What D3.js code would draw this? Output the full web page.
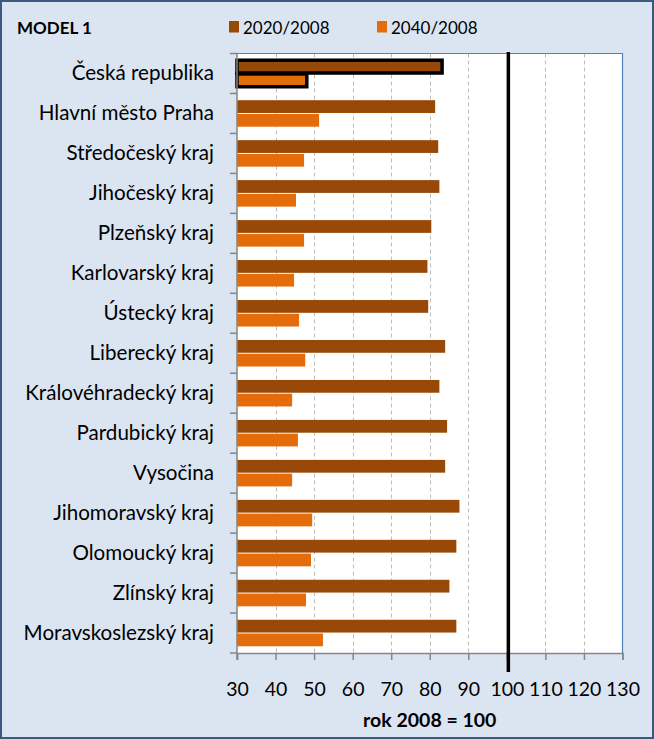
<!DOCTYPE html>
<html><head><meta charset="utf-8">
<script src="https://cdn.jsdelivr.net/npm/d3@7"></script>
<style>html,body{margin:0;padding:0;background:#fff}</style>
</head><body>
<svg id="c" width="654" height="739"></svg>
<script>
const categories = ["Česká republika","Hlavní město Praha","Středočeský kraj","Jihočeský kraj","Plzeňský kraj","Karlovarský kraj","Ústecký kraj","Liberecký kraj","Královéhradecký kraj","Pardubický kraj","Vysočina","Jihomoravský kraj","Olomoucký kraj","Zlínský kraj","Moravskoslezský kraj"];
const v2020 = [83.2,81.4,82.2,82.5,80.4,79.4,79.6,84.0,82.5,84.5,84.0,87.7,86.9,85.1,86.9];
const v2040 = [48.1,51.3,47.4,45.3,47.4,44.8,46.1,47.7,44.3,45.8,44.3,49.5,49.2,47.9,52.3];
const seriesNames = ["2020/2008","2040/2008"];
const tickValues = [30,40,50,60,70,80,90,100,110,120,130];
const title = "MODEL 1";
const axisTitle = "rok 2008 = 100";
const refValue = 100;

(function(){
const colors = ["#984807","#E46C0A"];
const font = "Lato, 'Open Sans', sans-serif";
const svg = d3.select("#c");
const W = 654, H = 739;
svg.append("rect").attr("x",1).attr("y",1).attr("width",W-2).attr("height",H-2)
  .attr("fill","#dbe5f1").attr("stroke","#3b5a80").attr("stroke-width",2);

const pL = 237, pR = 622.5, pT = 53.5, pB = 653;
const x = d3.scaleLinear().domain([30,130]).range([pL,pR]);
const y = d3.scaleBand().domain(categories).range([pT,pB]);
const yi = d3.scaleBand().domain(seriesNames).range([0,y.bandwidth()]).paddingInner(0.07).paddingOuter(0.49);

const g = svg.append("g");
g.append("rect").attr("x",pL).attr("y",pT).attr("width",pR-pL).attr("height",pB-pT).attr("fill","#fff");

g.append("g").selectAll("line").data(tickValues.filter(t=>t>30 && t<130)).join("line")
  .attr("x1",d=>Math.round(x(d))+0.5).attr("x2",d=>Math.round(x(d))+0.5)
  .attr("y1",pT).attr("y2",pB)
  .attr("stroke","#bdbdbd").attr("stroke-width",1).attr("stroke-dasharray","4,3");

g.append("path").attr("d",`M${pL},${pT}H${pR}V${pB}`).attr("fill","none").attr("stroke","#4f81bd").attr("stroke-width",1.2);

const data = [];
categories.forEach((c,i)=>{
  data.push({c, s:seriesNames[0], v:v2020[i], i});
  data.push({c, s:seriesNames[1], v:v2040[i], i});
});
g.append("g").selectAll("rect").data(data).join("rect")
  .attr("x",x(30))
  .attr("y",d=>y(d.c)+yi(d.s))
  .attr("width",d=>x(d.v)-x(30))
  .attr("height",yi.bandwidth())
  .attr("fill",d=>d.s===seriesNames[0]?colors[0]:colors[1])
  .attr("stroke",d=>d.i===0?"#000":"none")
  .attr("stroke-width",3.5);

const xAxis = d3.axisBottom(x).tickValues(tickValues).tickSize(7).tickPadding(22).tickFormat(d3.format("d"));
const ax = svg.append("g").attr("transform",`translate(0,${pB})`).call(xAxis);
ax.select(".domain").attr("stroke","#868686").attr("stroke-width",1.5);
ax.selectAll(".tick line").attr("stroke","#868686").attr("stroke-width",1.5);
ax.selectAll(".tick text").attr("font-family",font).attr("font-size",19.5).attr("fill","#000");

const yAxis = d3.axisLeft(y).tickSize(0).tickPadding(23);
const ay = svg.append("g").attr("transform",`translate(${pL},0)`).call(yAxis);
ay.select(".domain").remove();
ay.selectAll(".tick text").attr("font-family",font).attr("font-size",20.6).attr("fill","#000");
svg.append("line").attr("x1",pL).attr("x2",pL).attr("y1",pT).attr("y2",pB+7).attr("stroke","#868686").attr("stroke-width",1.5);
svg.append("g").selectAll("line").data(d3.range(categories.length+1)).join("line")
  .attr("x1",pL-7).attr("x2",pL)
  .attr("y1",d=>pT+d*y.step()).attr("y2",d=>pT+d*y.step())
  .attr("stroke","#868686").attr("stroke-width",1.5);

svg.append("line").attr("x1",x(refValue)+1.5).attr("x2",x(refValue)+1.5).attr("y1",52).attr("y2",672)
  .attr("stroke","#000").attr("stroke-width",3.5);

svg.append("text").attr("x",(pL+pR)/2).attr("y",727).attr("text-anchor","middle")
  .attr("font-family",font).attr("font-weight","bold").attr("font-size",19.5).text(axisTitle);

svg.append("text").attr("x",17).attr("y",34).attr("font-family",font).attr("font-weight","bold").attr("font-size",17).text(title);

const lx = [229,377];
seriesNames.forEach((s,i)=>{
  svg.append("rect").attr("x",lx[i]).attr("y",21).attr("width",10).attr("height",11.5).attr("fill",colors[i]);
  svg.append("text").attr("x",lx[i]+14).attr("y",33.5).attr("font-family",font).attr("font-size",17).text(s);
});
})();
</script>
</body></html>
